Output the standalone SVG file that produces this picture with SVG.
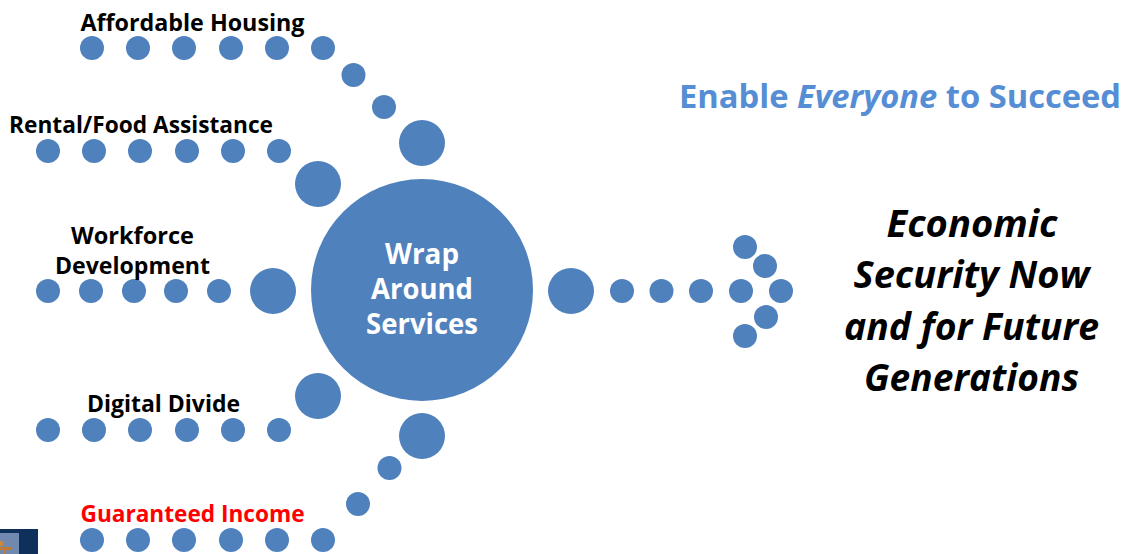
<svg xmlns="http://www.w3.org/2000/svg" width="1126" height="554" viewBox="0 0 1126 554">
<style>
text{font-family:"Open Sans","Noto Sans","Liberation Sans",sans-serif;font-weight:700}
.d{fill:#4f81bd}
.l{font-size:24px;fill:#000;text-anchor:middle}
.c{font-size:28px;fill:#fff;text-anchor:middle}
.e{font-size:37px;fill:#000;text-anchor:middle;font-style:italic}
</style>
<rect width="1126" height="554" fill="#fff"/>
<g id="corner-picture">
<rect x="0" y="529" width="38" height="25" fill="#10305c"/>
<rect x="0" y="533" width="19" height="21" fill="#7189ae"/>
<rect x="0" y="541" width="3" height="5" fill="#c9873f"/>
<rect x="0" y="547" width="11" height="3" fill="#c07a35"/>
<rect x="3" y="550" width="3" height="4" fill="#c07a35"/>
</g>
<g id="connectors" class="d">
<g id="dots-housing"><circle cx="92" cy="48" r="12"/><circle cx="138" cy="48" r="12"/><circle cx="184" cy="48" r="12"/><circle cx="231" cy="48" r="12"/><circle cx="277" cy="48" r="12"/><circle cx="323" cy="48" r="12"/><circle cx="353.500" cy="75" r="12"/><circle cx="384" cy="107" r="12"/><circle cx="422" cy="143" r="23"/></g>
<g id="dots-rental"><circle cx="48" cy="151" r="12"/><circle cx="94" cy="151" r="12"/><circle cx="140" cy="151" r="12"/><circle cx="187" cy="151" r="12"/><circle cx="233" cy="151" r="12"/><circle cx="279" cy="151" r="12"/><circle cx="318" cy="184" r="23"/></g>
<g id="dots-workforce"><circle cx="48" cy="291" r="12"/><circle cx="91" cy="291" r="12"/><circle cx="134" cy="291" r="12"/><circle cx="176" cy="291" r="12"/><circle cx="219" cy="291" r="12"/><circle cx="273" cy="291" r="23"/></g>
<g id="dots-digital"><circle cx="48" cy="430" r="12"/><circle cx="94" cy="430" r="12"/><circle cx="140" cy="430" r="12"/><circle cx="187" cy="430" r="12"/><circle cx="233" cy="430" r="12"/><circle cx="279" cy="430" r="12"/><circle cx="318" cy="396" r="23"/></g>
<g id="dots-income"><circle cx="92" cy="540" r="12"/><circle cx="138" cy="540" r="12"/><circle cx="184" cy="540" r="12"/><circle cx="231" cy="540" r="12"/><circle cx="277" cy="540" r="12"/><circle cx="323" cy="540" r="12"/><circle cx="358" cy="504" r="12"/><circle cx="389.500" cy="468" r="12"/><circle cx="422" cy="436" r="23"/></g>
<g id="dots-arrow"><circle cx="571" cy="291" r="23"/><circle cx="622" cy="291" r="12"/><circle cx="661.500" cy="291" r="12"/><circle cx="701" cy="291" r="12"/><circle cx="741" cy="291" r="12"/><circle cx="781" cy="291" r="12"/><circle cx="745" cy="247" r="12"/><circle cx="765" cy="266" r="12"/><circle cx="766" cy="317" r="12"/><circle cx="745" cy="336" r="12"/></g>
</g>
<g id="hub"><circle class="d" cx="422" cy="290" r="111"/>
<text class="c" x="422" y="264" textLength="74" lengthAdjust="spacingAndGlyphs">Wrap</text><text class="c" x="422" y="299" textLength="102" lengthAdjust="spacingAndGlyphs">Around</text><text class="c" x="422" y="334" textLength="112" lengthAdjust="spacingAndGlyphs">Services</text></g>
<g id="affordable-housing"><text class="l" x="192.500" y="31" textLength="224" lengthAdjust="spacingAndGlyphs">Affordable Housing</text></g>
<g id="rental-food"><text class="l" x="141" y="133" textLength="264" lengthAdjust="spacingAndGlyphs">Rental/Food Assistance</text></g>
<g id="workforce"><text class="l" x="132.500" y="244" textLength="123" lengthAdjust="spacingAndGlyphs">Workforce</text><text class="l" x="132.500" y="274" textLength="155" lengthAdjust="spacingAndGlyphs">Development</text></g>
<g id="digital-divide"><text class="l" x="163.500" y="412" textLength="153" lengthAdjust="spacingAndGlyphs">Digital Divide</text></g>
<g id="guaranteed-income"><text class="l" x="192.500" y="522" textLength="224" lengthAdjust="spacingAndGlyphs" style="fill:#f00">Guaranteed Income</text></g>
<g id="enable"><text x="679" y="108" font-size="33" fill="#558ed5" textLength="442" lengthAdjust="spacingAndGlyphs">Enable <tspan font-style="italic">Everyone</tspan> to Succeed</text></g>
<g id="economic"><text class="e" x="972" y="237" textLength="171" lengthAdjust="spacingAndGlyphs">Economic</text><text class="e" x="971.500" y="288" textLength="236" lengthAdjust="spacingAndGlyphs">Security Now</text><text class="e" x="971.500" y="340" textLength="255" lengthAdjust="spacingAndGlyphs">and for Future</text><text class="e" x="971.500" y="391" textLength="215" lengthAdjust="spacingAndGlyphs">Generations</text></g>
</svg>
